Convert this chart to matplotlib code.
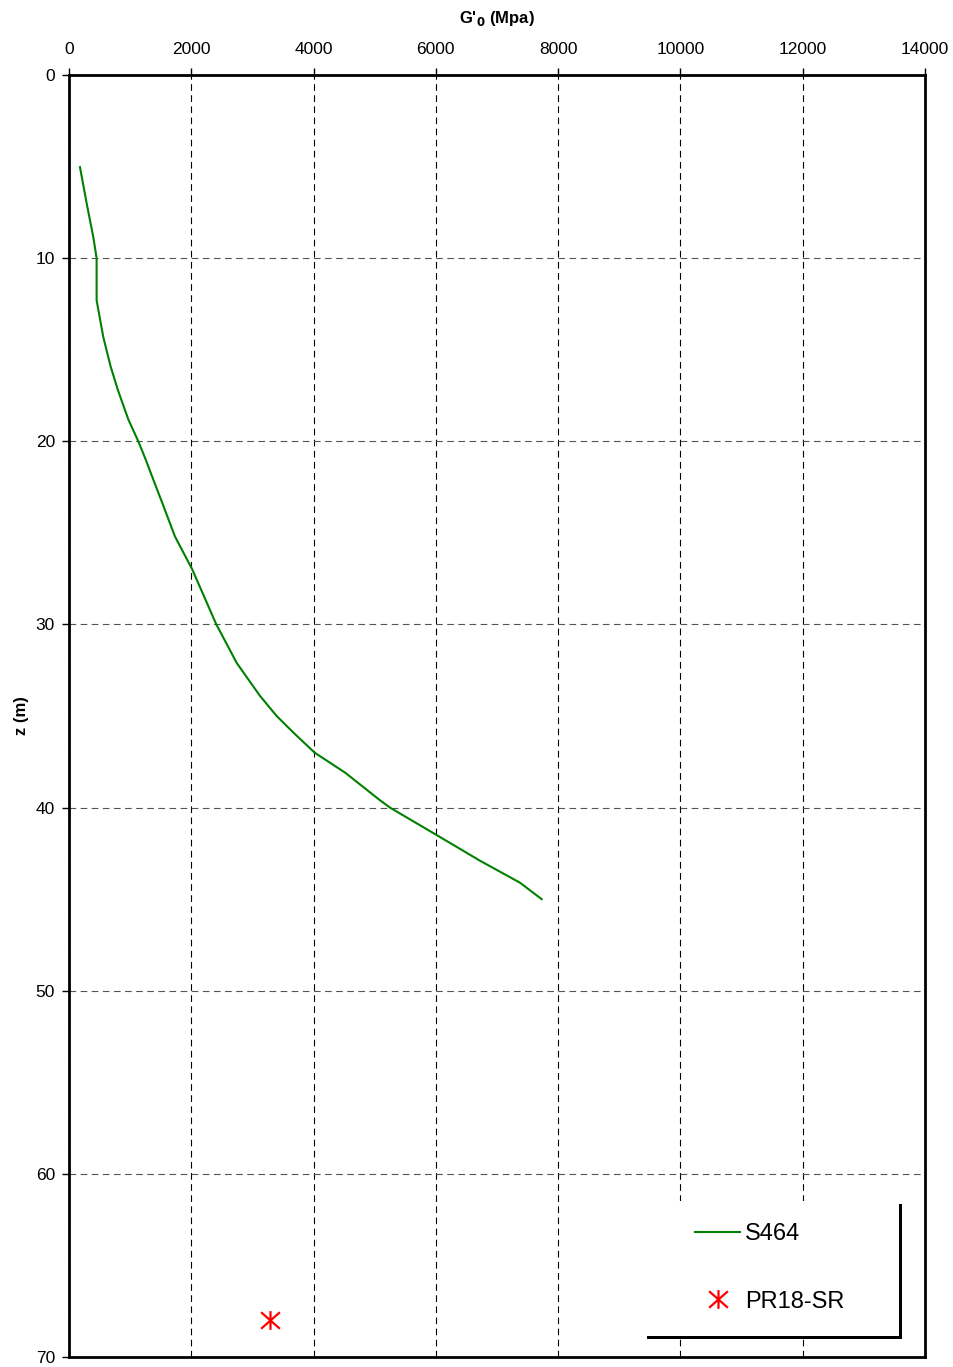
import numpy as np
import matplotlib
matplotlib.use("Agg")
import matplotlib.pyplot as plt
from matplotlib.patches import Rectangle
from matplotlib.path import Path

plt.rcParams['font.family'] = ['Liberation Sans', 'DejaVu Sans']

# S464 profile: G'0 (MPa) vs depth z (m)
s464_g = [180, 289, 398, 452, 452, 452, 561, 680, 800, 970, 1134, 1255, 1380, 1530,
          1734, 2017, 2410, 2633, 2743, 3124, 3397, 3669, 4018, 4520, 5087, 5250,
          6014, 6722, 7376, 7731]
s464_z = [5.03, 7.0, 8.85, 10.0, 11.0, 12.3, 14.3, 15.9, 17.2, 18.8, 20.0, 21.0, 22.1, 23.4,
          25.2, 27.0, 30.0, 31.4, 32.1, 33.9, 35.0, 35.9, 37.0, 38.1, 39.6, 40.0,
          41.5, 42.9, 44.1, 45.0]

# PR18-SR single point
pr18_g = [3280]
pr18_z = [68.0]

x_ticks = [0, 2000, 4000, 6000, 8000, 10000, 12000, 14000]
y_ticks = [0, 10, 20, 30, 40, 50, 60, 70]

# Excel-like star marker: vertical bar plus an X
star = Path([(0, -1), (0, 1), (-1, -0.88), (1, 0.88), (-1, 0.88), (1, -0.88)],
            [Path.MOVETO, Path.LINETO, Path.MOVETO, Path.LINETO, Path.MOVETO, Path.LINETO])

fig = plt.figure(figsize=(9.54, 13.67), dpi=100)
ax = fig.add_axes([0.0723, 0.0073, 0.8973, 0.9378])

ax.plot(s464_g, s464_z, color='green', lw=1.5, label='S464', zorder=3)
ax.plot(pr18_g, pr18_z, ls='none', marker=star, ms=13.5, mew=1.6,
        color='red', label='PR18-SR', zorder=3)

ax.set_xlim(0, 14000)
ax.set_ylim(70, 0)
ax.set_xticks(x_ticks)
ax.set_yticks(y_ticks)
ax.xaxis.tick_top()
ax.xaxis.set_label_position('top')
ax.tick_params(axis='both', labelsize=12.5, length=5, width=1, direction='out', colors='black')
ax.tick_params(axis='x', pad=8)
ax.tick_params(axis='y', pad=5)

ax.xaxis.grid(True, color='black', ls=(0, (6, 4)), lw=0.8)
ax.yaxis.grid(True, color='#555555', ls=(0, (6, 4)), lw=0.8)
ax.set_axisbelow(True)

for sp in ax.spines.values():
    sp.set_linewidth(2)
    sp.set_color('black')

ax.set_xlabel("G'$_\\mathbf{0}$ (Mpa)", fontsize=12, fontweight='bold', labelpad=14)
ax.set_ylabel('z (m)', fontsize=12, fontweight='bold', labelpad=5)

# legend box with Excel-style shadow
bx0, by0, bw, bh = 0.6717, 0.0164, 0.2979, 0.1053
ax.add_patch(Rectangle((bx0 + 0.0035, by0 - 0.0025), bw, bh, transform=ax.transAxes,
                       facecolor='black', edgecolor='none', zorder=4))
ax.add_patch(Rectangle((bx0, by0), bw, bh, transform=ax.transAxes,
                       facecolor='white', edgecolor='none', zorder=5))
leg = ax.legend(loc='upper left', bbox_to_anchor=(0.707, 0.121), frameon=False,
                fontsize=17, handlelength=1.9, handletextpad=0.2, labelspacing=1.93)
leg.set_zorder(6)

fig.savefig('out.png', dpi=100)
